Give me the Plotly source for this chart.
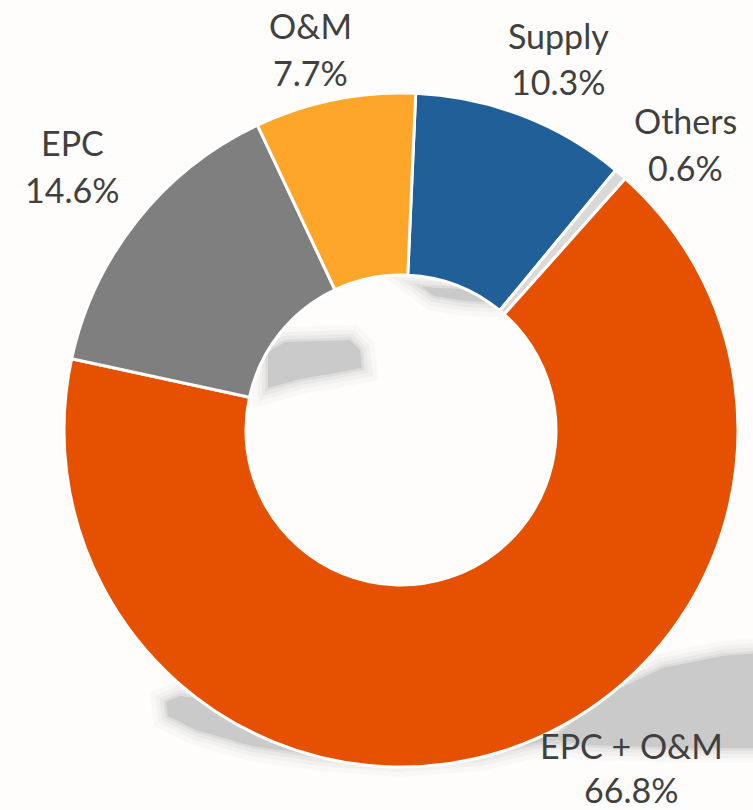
import plotly.graph_objects as go

labels = ["Supply", "Others", "EPC + O&M", "EPC", "O&M"]
values = [10.3, 0.6, 66.8, 14.6, 7.7]
colors = ["#215F99", "#D9D9D9", "#E55100", "#7F7F7F", "#FDA62A"]

W, H = 753, 810
cx, cy, R = 401, 430, 337  # pixel centre (from top) and radius

fig = go.Figure(go.Pie(
    labels=labels, values=values, sort=False, direction="clockwise",
    rotation=2.5, hole=0.46, textinfo="none", hoverinfo="label+percent",
    marker=dict(colors=colors, line=dict(color="#FFFFFF", width=3)),
    domain=dict(x=[(cx - R) / W, (cx + R) / W],
                y=[(H - cy - R) / H, (H - cy + R) / H]),
    showlegend=False,
))

# label placement (pixel coordinates: x centre, y centre of name line, y centre of value line)
label_pos = {
    "O&M": (310, 25, 72),
    "Supply": (558, 36, 82),
    "Others": (685, 120, 167),
    "EPC": (72, 143, 190),
    "EPC + O&M": (631, 745, 789),
}
font = dict(family="Lato, 'Open Sans', sans-serif", size=34, color="#404040")
ann = []
for lab, val in zip(labels, values):
    x, y1, y2 = label_pos[lab]
    ann.append(dict(x=x / W, y=1 - y1 / H, xref="paper", yref="paper",
                    text=lab, showarrow=False, font=font, borderpad=0,
                    xanchor="center", yanchor="middle"))
    ann.append(dict(x=x / W, y=1 - y2 / H, xref="paper", yref="paper",
                    text=f"{val:.1f}%", showarrow=False, font=font, borderpad=0,
                    xanchor="center", yanchor="middle"))

# soft grey shadow artefacts (core fill + fading outlines for a blurred edge)
def soft(pts):
    d = "M " + " L ".join(f"{x / W:.4f},{1 - y / H:.4f}" for x, y in pts) + " Z"
    out = []
    for w, op in [(30, 0.06), (20, 0.10), (12, 0.15), (5, 0.25)]:
        out.append(dict(type="path", path=d, xref="paper", yref="paper",
                        fillcolor="rgba(0,0,0,0)", opacity=op,
                        line=dict(width=w, color="#BBBBBB"), layer="below"))
    out.append(dict(type="path", path=d, xref="paper", yref="paper",
                    fillcolor="#CACACA", opacity=1, line=dict(width=0), layer="below"))
    return out

shapes = []
shapes += soft([(268, 352), (285, 342), (350, 340), (360, 350), (362, 368),
                (330, 374), (300, 379), (268, 388)])
shapes += soft([(422, 287), (460, 289), (483, 295), (489, 302), (466, 301), (434, 296)])
shapes += soft([(166, 702), (180, 696), (230, 702), (300, 720), (400, 735), (500, 722),
                (548, 740), (480, 756), (400, 762), (320, 756), (252, 746), (196, 730),
                (168, 716)])
shapes += soft([(596, 700), (662, 668), (722, 656), (770, 652), (770, 748),
                (690, 748), (585, 745), (555, 738)])

fig.update_layout(
    width=W, height=H, margin=dict(l=0, r=0, t=0, b=0),
    paper_bgcolor="#FEFDFB", plot_bgcolor="#FEFDFB",
    annotations=ann, shapes=shapes,
)
fig.write_html("out.html", config={"displayModeBar": False},
               post_script="document.body.style.margin='0';")
